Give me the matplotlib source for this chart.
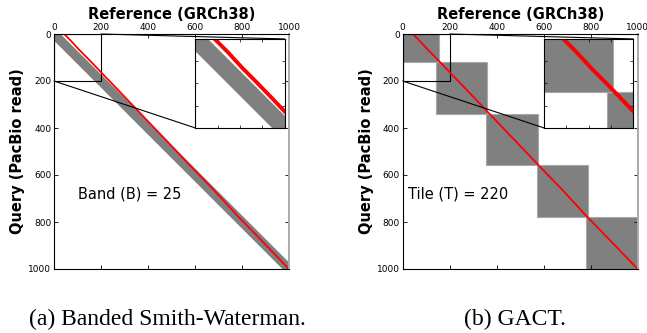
import matplotlib
matplotlib.use("Agg")
import matplotlib.pyplot as plt
from matplotlib.patches import Rectangle, ConnectionPatch

# alignment path (reference pos, query pos)
path_ref = [43, 73, 106, 136, 169, 207, 265, 346, 427, 494, 569, 681, 786, 894, 1000]
path_qry = [0, 30, 66, 96, 130, 170, 230, 315, 400, 470, 549, 665, 779, 890, 1000]

# banded SW: diagonal and half width of the band as drawn
band_diag = [-50, 1050]
band_half = 28

# GACT tiles
tile_x0 = [0, 142, 356, 570, 780]
tile_x1 = [155, 360, 577, 790, 1000]
tile_y0 = [0, 119, 339, 557, 779]
tile_y1 = [119, 339, 557, 779, 1000]

ticks = [0, 200, 400, 600, 800, 1000]
inset_ticks = [50, 100, 150]
zoom_lim = 200

GRAY = "#808080"
RED = "#ff0000"

fig = plt.figure(figsize=(6.47, 3.33), dpi=100)


def style_main(ax):
    ax.set_xlim(0, 1000)
    ax.set_ylim(1000, 0)
    ax.set_xticks(ticks)
    ax.set_yticks(ticks)
    ax.xaxis.set_label_position("top")
    ax.tick_params(direction="in", top=True, bottom=True, left=True, right=True,
                   labeltop=True, labelbottom=False, labelsize=6.5, length=3,
                   width=0.6)
    ax.tick_params(axis="x", pad=1.5)
    ax.tick_params(axis="y", pad=2)
    ax.set_xlabel("Reference (GRCh38)", fontsize=10.5, fontweight="bold", labelpad=2.5)
    ax.set_ylabel("Query (PacBio read)", fontsize=10.5, fontweight="bold", labelpad=2)
    for s in ["left", "top", "bottom"]:
        ax.spines[s].set_linewidth(0.8)
    ax.spines["right"].set_color("#aaaaaa")
    ax.spines["right"].set_linewidth(1.4)


def style_inset(axi):
    axi.set_xlim(0, zoom_lim)
    axi.set_ylim(zoom_lim, 0)
    axi.set_xticks(inset_ticks)
    axi.set_yticks(inset_ticks)
    axi.tick_params(direction="in", top=True, bottom=True, left=True, right=True,
                    labelleft=False, labelbottom=False, length=2.5, width=0.5)
    for s in axi.spines.values():
        s.set_linewidth(0.8)


def mark_zoom(ax, axi):
    # box around the zoomed region plus two connector lines
    ax.add_patch(Rectangle((0, 0), zoom_lim, zoom_lim, fill=False, ec="black", lw=0.8))
    for pa, pb in [((zoom_lim, 0), (1, 1)), ((0, zoom_lim), (0, 0))]:
        con = ConnectionPatch(xyA=pa, coordsA=ax.transData, xyB=pb,
                              coordsB=axi.transAxes, color="black", lw=0.8)
        fig.add_artist(con)


def draw_band(a, lw):
    lo = [d - band_half for d in band_diag]
    hi = [d + band_half for d in band_diag]
    a.fill_between(band_diag, lo, hi, color=GRAY, lw=0)
    a.plot(path_ref, path_qry, color=RED, lw=lw, solid_joinstyle="round")


def draw_tiles(a, lw):
    for x0, x1, y0, y1 in zip(tile_x0, tile_x1, tile_y0, tile_y1):
        a.add_patch(Rectangle((x0, y0), x1 - x0, y1 - y0, facecolor=GRAY,
                              edgecolor="#a8a8a8", lw=0.8))
    a.plot(path_ref, path_qry, color=RED, lw=lw, solid_joinstyle="round")


inset_box = [0.602, 0.60, 0.379, 0.379]

# (a) banded Smith-Waterman
ax1 = fig.add_axes([54 / 647, 64 / 333, 235 / 647, 235 / 333])
draw_band(ax1, 1.3)
style_main(ax1)
ax1.text(100, 680, "Band (B) = 25", fontsize=10.5, va="center")
in1 = ax1.inset_axes(inset_box)
draw_band(in1, 2.8)
style_inset(in1)
mark_zoom(ax1, in1)

# (b) GACT
ax2 = fig.add_axes([402.7 / 647, 64 / 333, 235 / 647, 235 / 333])
draw_tiles(ax2, 1.3)
style_main(ax2)
ax2.text(23, 680, "Tile (T) = 220", fontsize=10.5, va="center")
in2 = ax2.inset_axes(inset_box)
draw_tiles(in2, 2.8)
style_inset(in2)
mark_zoom(ax2, in2)

fig.text(167 / 647, 1 - 319 / 333, "(a) Banded Smith-Waterman.", ha="center",
         va="center", fontsize=17, family="Liberation Serif")
fig.text(515 / 647, 1 - 319 / 333, "(b) GACT.", ha="center",
         va="center", fontsize=17, family="Liberation Serif")

fig.savefig("out.png", dpi=100)
